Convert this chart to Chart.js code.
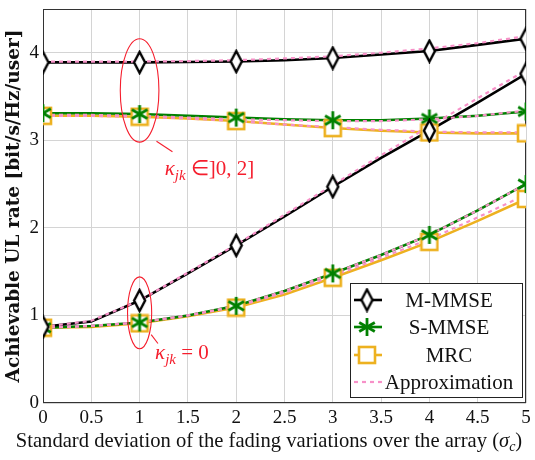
<!DOCTYPE html>
<html>
<head>
<meta charset="utf-8">
<script src="https://cdn.jsdelivr.net/npm/chart.js@4.4.1/dist/chart.umd.min.js"></script>
<style>
  html, body { margin: 0; padding: 0; background: #fff; }
</style>
</head>
<body>
<canvas id="chart" width="535" height="460"></canvas>
<script>
// standard deviation of the fading variations (x values)
const sigmaC = [0, 0.5, 1, 1.5, 2, 2.5, 3, 3.5, 4, 4.5, 5];

// kappa in ]0,2]
const mmseHigh   = [3.89, 3.89, 3.89, 3.895, 3.90, 3.915, 3.94, 3.98, 4.02, 4.09, 4.16];
const smmseHigh  = [3.31, 3.31, 3.30, 3.28, 3.26, 3.24, 3.23, 3.23, 3.25, 3.28, 3.33];
const mrcHigh    = [3.28, 3.28, 3.27, 3.25, 3.22, 3.18, 3.14, 3.11, 3.09, 3.08, 3.08];
const approxMmseHigh  = [3.90, 3.90, 3.90, 3.905, 3.915, 3.935, 3.96, 4.00, 4.05, 4.11, 4.19];
const approxSmmseHigh = [3.29, 3.29, 3.28, 3.26, 3.24, 3.23, 3.22, 3.22, 3.24, 3.28, 3.34];
const approxMrcHigh   = [3.28, 3.28, 3.27, 3.25, 3.22, 3.18, 3.15, 3.12, 3.10, 3.09, 3.09];

// kappa = 0
const mmseLow   = [0.87, 0.93, 1.17, 1.48, 1.80, 2.13, 2.47, 2.80, 3.11, 3.43, 3.76];
const smmseLow  = [0.86, 0.88, 0.92, 1.00, 1.11, 1.28, 1.48, 1.69, 1.92, 2.20, 2.50];
const mrcLow    = [0.86, 0.87, 0.91, 0.99, 1.09, 1.24, 1.43, 1.63, 1.84, 2.08, 2.33];
const approxMmseLow  = [0.87, 0.94, 1.17, 1.49, 1.81, 2.15, 2.49, 2.83, 3.16, 3.48, 3.80];
const approxSmmseLow = [0.86, 0.88, 0.92, 1.00, 1.11, 1.28, 1.48, 1.69, 1.92, 2.20, 2.50];
const approxMrcLow   = [0.86, 0.88, 0.92, 1.00, 1.10, 1.26, 1.45, 1.66, 1.87, 2.12, 2.38];

const xTicks = [0, 0.5, 1, 1.5, 2, 2.5, 3, 3.5, 4, 4.5, 5];
const yTicks = [0, 1, 2, 3, 4];

const legendLabels = ['M-MMSE', 'S-MMSE', 'MRC', 'Approximation'];
const xTitle = 'Standard deviation of the fading variations over the array ';

const BLACK = '#000';
const GREEN = 'rgb(0,128,0)';
const ORANGE = 'rgb(237,177,32)';
const PINK = 'rgb(247,145,200)';
const RED = 'rgb(245,30,45)';

// marker images
function makeMarker(w, h, draw) {
  const c = document.createElement('canvas');
  c.width = w; c.height = h;
  draw(c.getContext('2d'), w, h);
  return c;
}
const diamond = makeMarker(15, 25, (g, w, h) => {
  g.beginPath();
  g.moveTo(w / 2, 2); g.lineTo(w - 2, h / 2); g.lineTo(w / 2, h - 2); g.lineTo(2, h / 2);
  g.closePath();
  g.fillStyle = '#fff'; g.fill();
  g.lineWidth = 2.4; g.strokeStyle = BLACK; g.stroke();
});
const asterisk = makeMarker(22, 22, (g, w, h) => {
  g.strokeStyle = GREEN; g.lineWidth = 2.8; g.lineCap = 'butt';
  const r = 9, cx = w / 2, cy = h / 2;
  [90, 30, -30].forEach(a => {
    const t = a * Math.PI / 180;
    g.beginPath();
    g.moveTo(cx - r * Math.cos(t), cy - r * Math.sin(t));
    g.lineTo(cx + r * Math.cos(t), cy + r * Math.sin(t));
    g.stroke();
  });
});
const square = makeMarker(20, 20, (g, w, h) => {
  g.fillStyle = '#fff'; g.fillRect(2, 2, w - 4, h - 4);
  g.lineWidth = 2.6; g.strokeStyle = ORANGE; g.strokeRect(2, 2, w - 4, h - 4);
});

const toXY = arr => sigmaC.map((x, i) => ({ x: x, y: arr[i] }));
const onlyMarks = arr => toXY(arr).filter(p => Number.isInteger(p.x));

function markSet(arr, img) {
  return { data: onlyMarks(arr), showLine: false, pointStyle: img, pointRadius: 8, pointHoverRadius: 8 };
}
function lineSet(arr, color, dashed) {
  return {
    data: toXY(arr), borderColor: color, borderWidth: dashed ? 2.2 : 2.6,
    borderDash: dashed ? [4, 4] : [], pointRadius: 0, tension: 0, fill: false
  };
}

// ellipses and labels, in data units
const notes = {
  ellipses: [
    { x: 1.0, y: 3.57, rx: 0.20, ry: 0.59 },
    { x: 1.0, y: 1.03, rx: 0.125, ry: 0.41 }
  ],
  links: [
    [1.175, 2.99, 1.34, 2.87],
    [1.12, 0.78, 1.19, 0.68]
  ],
  labels: [
    { x: 1.26, y: 2.60, rest: ' \u2208]0, 2]' },
    { x: 1.16, y: 0.50, rest: ' = 0' }
  ]
};

const notesPlugin = {
  id: 'notes',
  afterDatasetsDraw(chart) {
    const g = chart.ctx, xs = chart.scales.x, ys = chart.scales.y;
    g.save();
    g.strokeStyle = RED; g.lineWidth = 1.1;
    notes.ellipses.forEach(e => {
      const cx = xs.getPixelForValue(e.x), cy = ys.getPixelForValue(e.y);
      const rx = xs.getPixelForValue(e.x + e.rx) - cx, ry = cy - ys.getPixelForValue(e.y + e.ry);
      g.beginPath(); g.ellipse(cx, cy, rx, ry, 0, 0, Math.PI * 2); g.stroke();
    });
    notes.links.forEach(l => {
      g.beginPath();
      g.moveTo(xs.getPixelForValue(l[0]), ys.getPixelForValue(l[1]));
      g.lineTo(xs.getPixelForValue(l[2]), ys.getPixelForValue(l[3]));
      g.stroke();
    });
    g.fillStyle = RED; g.textBaseline = 'alphabetic';
    notes.labels.forEach(t => {
      let px = xs.getPixelForValue(t.x);
      const py = ys.getPixelForValue(t.y);
      g.font = 'italic 21px "Liberation Serif"';
      g.fillText('\u03ba', px, py); px += g.measureText('\u03ba').width;
      g.font = 'italic 15px "Liberation Serif"';
      g.fillText('jk', px, py + 5); px += g.measureText('jk').width;
      g.font = '21px "Liberation Serif"';
      g.fillText(t.rest, px, py);
    });
    g.restore();
  }
};

// x-axis title, centred on the whole figure, with italic sigma_c
const xTitlePlugin = {
  id: 'xTitle',
  afterDraw(chart) {
    const g = chart.ctx;
    g.save();
    g.fillStyle = '#111'; g.textBaseline = 'alphabetic';
    const main = '20.6px "Liberation Serif"', ital = 'italic 20.6px "Liberation Serif"', sub = 'italic 14px "Liberation Serif"';
    g.font = main; const w1 = g.measureText(xTitle + '()').width;
    g.font = ital; const w2 = g.measureText('\u03c3').width;
    g.font = sub; const w3 = g.measureText('c').width;
    let px = 269 - (w1 + w2 + w3) / 2;
    const py = 447;
    g.font = main; g.fillText(xTitle + '(', px, py); px += g.measureText(xTitle + '(').width;
    g.font = ital; g.fillText('\u03c3', px, py); px += w2;
    g.font = sub; g.fillText('c', px, py + 4); px += w3;
    g.font = main; g.fillText(')', px, py);
    g.restore();
  }
};

const legendPlugin = {
  id: 'boxLegend',
  afterDraw(chart) {
    const g = chart.ctx;
    const box = { l: 350, t: 283, w: 172, h: 114 };
    g.save();
    g.fillStyle = '#fff'; g.fillRect(box.l, box.t, box.w, box.h);
    g.strokeStyle = '#222'; g.lineWidth = 1; g.strokeRect(box.l + 0.5, box.t + 0.5, box.w, box.h);
    const rows = [300, 327, 355, 382];
    const styles = [[BLACK, diamond], [GREEN, asterisk], [ORANGE, square], [PINK, null]];
    rows.forEach((y, i) => {
      const [col, img] = styles[i];
      g.strokeStyle = col;
      g.lineWidth = img ? 2.6 : 2.2;
      g.setLineDash(img ? [] : [4, 4]);
      g.beginPath(); g.moveTo(354, y); g.lineTo(382, y); g.stroke();
      g.setLineDash([]);
      if (img) g.drawImage(img, 367 - img.width / 2, y - img.height / 2);
      g.fillStyle = '#111'; g.font = '21px "Liberation Serif"';
      g.textAlign = 'center'; g.textBaseline = 'middle';
      g.fillText(legendLabels[i], 449, y + 1);
    });
    g.restore();
  }
};

const framePlugin = {
  id: 'frame',
  beforeDatasetsDraw(chart) {
    const a = chart.chartArea, g = chart.ctx;
    g.save(); g.strokeStyle = '#333'; g.lineWidth = 1;
    g.strokeRect(a.left + 0.5, a.top + 0.5, a.right - a.left - 1, a.bottom - a.top - 1);
    g.restore();
  }
};

const datasets = [
  markSet(mmseHigh, diamond), markSet(mmseLow, diamond),
  markSet(smmseHigh, asterisk), markSet(smmseLow, asterisk),
  markSet(mrcHigh, square), markSet(mrcLow, square),
  lineSet(approxMmseHigh, PINK, true), lineSet(approxMmseLow, PINK, true),
  lineSet(approxSmmseHigh, PINK, true), lineSet(approxSmmseLow, PINK, true),
  lineSet(approxMrcHigh, PINK, true), lineSet(approxMrcLow, PINK, true),
  lineSet(mmseHigh, BLACK), lineSet(mmseLow, BLACK),
  lineSet(smmseHigh, GREEN), lineSet(smmseLow, GREEN),
  lineSet(mrcHigh, ORANGE), lineSet(mrcLow, ORANGE)
];

const config = {
  type: 'line',
  data: { datasets },
  options: {
    responsive: false,
    animation: false,
    devicePixelRatio: 1,
    layout: { padding: { top: 1, right: 7, left: 0, bottom: 0 } },
    plugins: { legend: { display: false }, tooltip: { enabled: false } },
    scales: {
      x: {
        type: 'linear', min: 0, max: 5,
        afterBuildTicks: s => { s.ticks = xTicks.map(v => ({ value: v })); },
        afterFit: s => { s.height = 57; s.paddingLeft = 0; s.paddingRight = 0; },
        grid: { color: '#d4d4d4', drawTicks: false },
        border: { display: false },
        ticks: { color: '#111', padding: 4, maxRotation: 0, autoSkip: false,
                 callback: v => String(v),
                 font: { family: 'Liberation Serif', size: 19 } },
        title: { display: false }
      },
      y: {
        type: 'linear', min: 0, max: 4.5,
        afterBuildTicks: s => { s.ticks = yTicks.map(v => ({ value: v })); },
        afterFit: s => { s.width = 43; s.paddingTop = 0; s.paddingBottom = 0; },
        grid: { color: '#d4d4d4', drawTicks: false },
        border: { display: false },
        ticks: { color: '#111', padding: 4, callback: v => String(v),
                 font: { family: 'Liberation Serif', size: 19 } },
        title: { display: true, text: 'Achievable UL rate [bit/s/Hz/user]', color: '#111',
                 font: { family: 'DejaVu Serif', size: 18.5, weight: 'bold' }, padding: { top: 3, bottom: 0 } }
      }
    }
  },
  plugins: [framePlugin, notesPlugin, legendPlugin, xTitlePlugin]
};

new Chart(document.getElementById('chart').getContext('2d'), config);
</script>
</body>
</html>
